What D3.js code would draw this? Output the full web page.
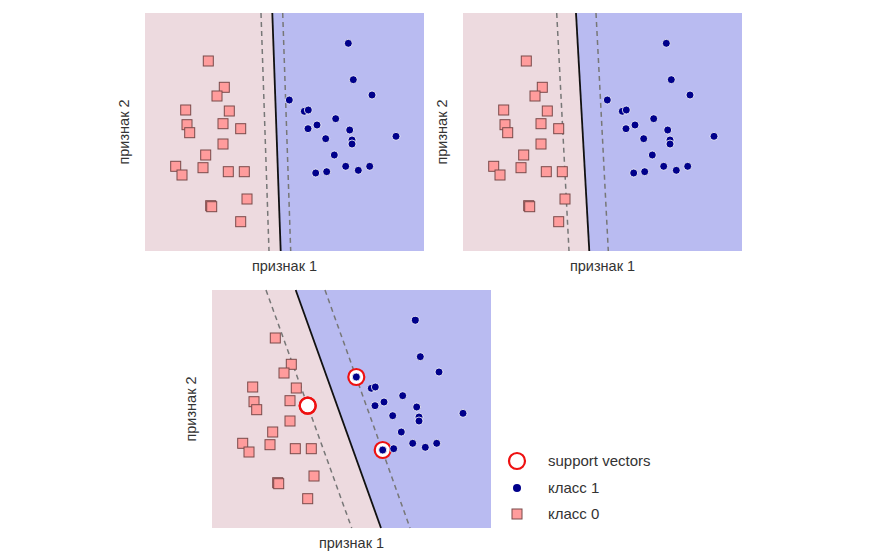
<!DOCTYPE html>
<html>
<head>
<meta charset="utf-8">
<script src="https://cdn.jsdelivr.net/npm/d3@7"></script>
<style>
body { margin: 0; background: #fff; }
text { font-family: "Liberation Sans", Arial, sans-serif; fill: #333; }
</style>
</head>
<body>
<div id="chart"></div>
<script>
// feature space: x 0..27.9, y 0..23.8
const class0 = [
  [6.33, 19.0], [7.93, 16.37], [7.2, 15.5], [4.07, 14.1], [8.43, 14.0],
  [4.2, 12.63], [7.8, 12.73], [9.57, 12.23], [4.47, 11.83], [7.8, 10.7],
  [6.07, 9.6], [3.07, 8.47], [5.8, 8.33], [3.7, 7.6], [8.33, 7.93],
  [9.93, 7.93], [10.2, 5.2], [6.57, 4.53], [6.67, 4.43], [9.57, 2.93]
]
const class1 = [
  [20.33, 20.77], [20.83, 17.13], [22.7, 15.6], [14.43, 15.1], [15.93, 13.97],
  [16.33, 14.1], [19.07, 13.23], [17.2, 12.6], [16.3, 12.23], [20.47, 12.1],
  [25.1, 11.47], [18.07, 11.23], [20.7, 11.1], [20.7, 10.7], [18.93, 9.6],
  [20.07, 8.47], [22.47, 8.47], [21.33, 8.07], [18.17, 7.93], [17.07, 7.8]
]
const supportVectors = [[14.43, 15.1], [9.57, 12.23], [17.07, 7.8]]

// decision lines: [x at top (y=23.8), x at bottom (y=0)]
const panelLines = [
  { solid: [12.73, 13.57], lower: [11.6, 12.4], upper: [13.77, 14.57], sv: false },
  { solid: [11.3, 12.63], lower: [9.37, 10.6], upper: [13.3, 14.53], sv: false },
  { solid: [8.37, 16.9], lower: [5.4, 13.97], upper: [11.3, 19.8], sv: true }
]
const panelPos = [[145, 13], [463, 13], [212, 290]]
const legendLabels = ["support vectors", "класс 1", "класс 0"]

const W = 871, H = 558, pw = 279, ph = 238
const svg = d3.select("#chart").append("svg").attr("width", W).attr("height", H)

const x = d3.scaleLinear().domain([0, 27.9]).range([0, pw])
const y = d3.scaleLinear().domain([0, 23.8]).range([ph, 0])

panelLines.forEach((p, i) => {
  const g = svg.append("g").attr("transform", `translate(${panelPos[i][0]}, ${panelPos[i][1]})`)
  const top = 23.8, bot = 0
  g.append("rect").attr("width", pw).attr("height", ph).attr("fill", "#b9bbf1")
  g.append("path")
    .attr("d", d3.line()([[x(0), y(top)], [x(p.solid[0]), y(top)], [x(p.solid[1]), y(bot)], [x(0), y(bot)]]))
    .attr("fill", "#eddadf")
  ;[p.lower, p.upper].forEach(l => {
    g.append("line")
      .attr("x1", x(l[0])).attr("y1", y(top)).attr("x2", x(l[1])).attr("y2", y(bot))
      .attr("stroke", "#777").attr("stroke-width", 1.5).attr("stroke-dasharray", "5,4")
  })
  g.append("line")
    .attr("x1", x(p.solid[0])).attr("y1", y(top)).attr("x2", x(p.solid[1])).attr("y2", y(bot))
    .attr("stroke", "#111").attr("stroke-width", 1.8)

  g.selectAll("rect.c0").data(class0).enter().append("rect")
    .attr("class", "c0")
    .attr("x", d => x(d[0]) - 5).attr("y", d => y(d[1]) - 5)
    .attr("width", 10).attr("height", 10)
    .attr("fill", "#ff9c9c").attr("stroke", "#7a4a4a").attr("stroke-width", 1)

  if (p.sv) {
    g.selectAll("circle.sv").data(supportVectors).enter().append("circle")
      .attr("class", "sv")
      .attr("cx", d => x(d[0])).attr("cy", d => y(d[1])).attr("r", 8)
      .attr("fill", "#fff").attr("stroke", "#ee1111").attr("stroke-width", 2.2)
  }

  g.selectAll("circle.c1").data(class1).enter().append("circle")
    .attr("class", "c1")
    .attr("cx", d => x(d[0])).attr("cy", d => y(d[1])).attr("r", 4)
    .attr("fill", "#00008b").attr("stroke", "#fff").attr("stroke-width", 0.8)

  if (p.sv) {
    // red square support vector stays visible under ring
    g.selectAll("circle.sv2").data([supportVectors[1]]).enter().append("circle")
      .attr("cx", d => x(d[0])).attr("cy", d => y(d[1])).attr("r", 8)
      .attr("fill", "none").attr("stroke", "#ee1111").attr("stroke-width", 2.2)
  }

  g.append("text").attr("x", pw / 2).attr("y", ph + 20)
    .attr("text-anchor", "middle").style("font-size", "14.5px").text("признак 1")
  g.append("text").attr("transform", `translate(-16, ${ph / 2}) rotate(-90)`)
    .attr("text-anchor", "middle").style("font-size", "14.5px").text("признак 2")
})

// svg order: ring drawn over the square for class 0 support vector
const leg = svg.append("g").attr("transform", "translate(517, 461)")
leg.append("circle").attr("cx", 0).attr("cy", 0).attr("r", 8)
  .attr("fill", "#fff").attr("stroke", "#ee1111").attr("stroke-width", 2.2)
leg.append("circle").attr("cx", 0).attr("cy", 27).attr("r", 4).attr("fill", "#00008b")
leg.append("rect").attr("x", -5).attr("y", 48).attr("width", 10).attr("height", 10)
  .attr("fill", "#ff9c9c").attr("stroke", "#7a4a4a")
leg.selectAll("text").data(legendLabels).enter().append("text")
  .attr("x", 31).attr("y", (d, i) => i * 26.5 + 5)
  .style("font-size", "15px").text(d => d)
</script>
</body>
</html>
